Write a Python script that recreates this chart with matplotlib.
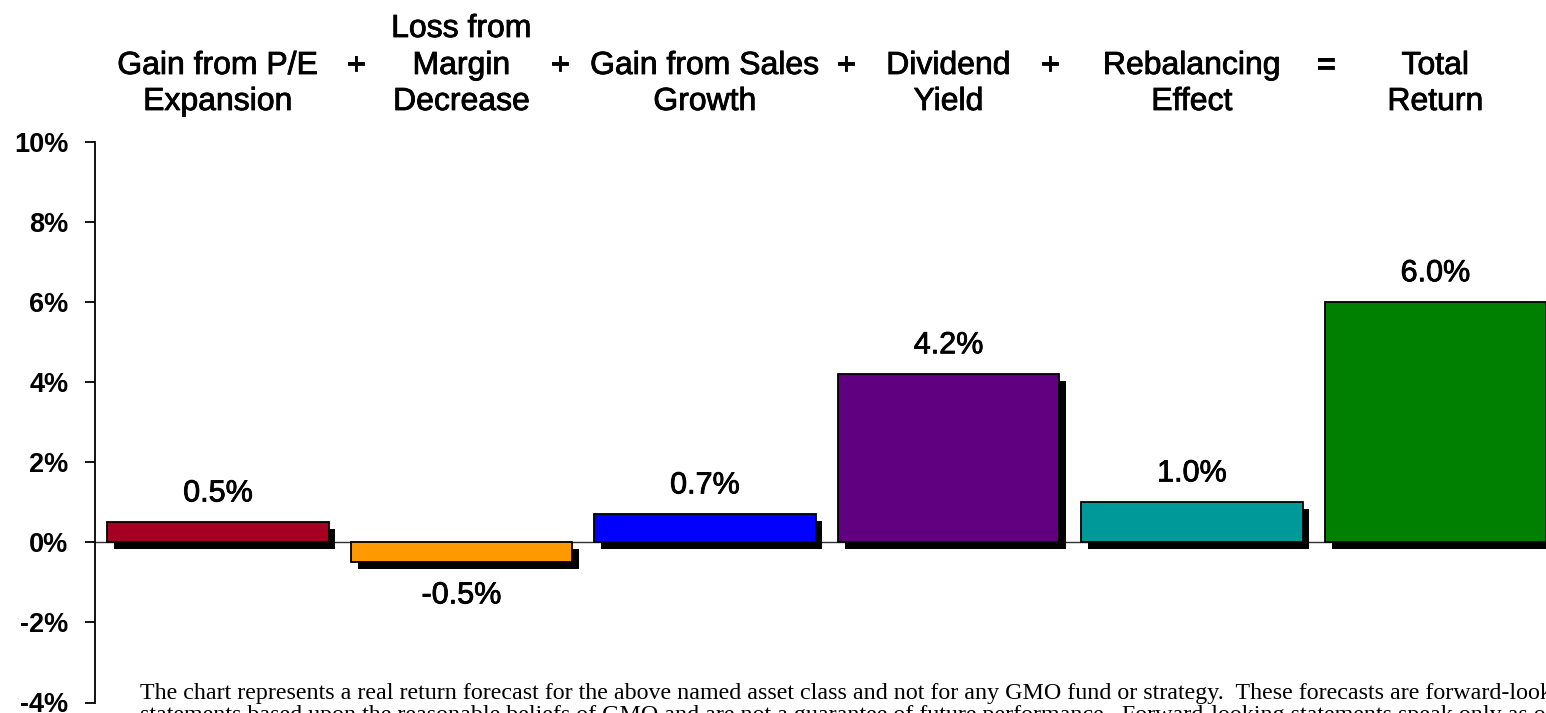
import matplotlib
matplotlib.use("Agg")
import matplotlib.pyplot as plt
import matplotlib.patheffects as pe
from matplotlib.transforms import blended_transform_factory

# Return decomposition components (percent)
categories = [
    ["Gain from P/E", "Expansion"],
    ["Loss from", "Margin", "Decrease"],
    ["Gain from Sales", "Growth"],
    ["Dividend", "Yield"],
    ["Rebalancing", "Effect"],
    ["Total", "Return"],
]
values = [0.5, -0.5, 0.7, 4.2, 1.0, 6.0]
value_labels = ["0.5%", "-0.5%", "0.7%", "4.2%", "1.0%", "6.0%"]
operators = ["+", "+", "+", "+", "="]
colors = ["#A50021", "#FF9900", "#0000FF", "#600080", "#009999", "#008000"]
yticks = [-4, -2, 0, 2, 4, 6, 8, 10]
ytick_labels = ["-4%", "-2%", "0%", "2%", "4%", "6%", "8%", "10%"]

footnote_lines = [
    "The chart represents a real return forecast for the above named asset class and not for any GMO fund or strategy.  "
    "These forecasts are forward-looking",
    "statements based upon the reasonable beliefs of GMO and are not a guarantee of future performance.  "
    "Forward-looking statements speak only as of the date they are made",
]

SANS = ["Liberation Sans", "Arial", "DejaVu Sans"]
SERIF = ["Liberation Serif", "Times New Roman", "DejaVu Serif"]
heavy = [pe.withStroke(linewidth=0.6, foreground="black")]

W, H, DPI = 1546, 713, 100
fig = plt.figure(figsize=(W / DPI, H / DPI), dpi=DPI)
ax = fig.add_axes([95 / W, (H - 702.5) / H, 1 - 95 / W, (702.5 - 142) / H])

x = list(range(len(values)))
ax.axhline(0, color="#303030", lw=1.0, zorder=1)
bars = ax.bar(x, values, width=0.908, color=colors, edgecolor="black",
              linewidth=1.3, zorder=3)
for b in bars:
    b.set_path_effects([
        pe.SimplePatchShadow(offset=(5, -5), shadow_rgbFace="black", alpha=1.0),
        pe.Normal(),
    ])

# Value labels
for xi, v, lab in zip(x, values, value_labels):
    if v >= 0:
        t = ax.annotate(lab, (xi, v), xytext=(0, 10), textcoords="offset points",
                        ha="center", va="bottom", fontsize=22, family=SANS)
    else:
        t = ax.annotate(lab, (xi, v), xytext=(0, -13), textcoords="offset points",
                        ha="center", va="top", fontsize=22, family=SANS)
    t.set_path_effects(heavy)

ax.set_xlim(-0.505, 5.454)
ax.set_ylim(-4, 10)
ax.set_yticks(yticks)
ax.set_yticklabels(ytick_labels, fontsize=19.5, fontweight="bold", family=SANS)
ax.tick_params(axis="y", direction="out", length=7, width=1.3, pad=12, color="black")
ax.set_xticks([])
for s in ["top", "right", "bottom"]:
    ax.spines[s].set_visible(False)
ax.spines["left"].set_linewidth(1.3)

# Header: category names stacked above each bar, operators between them
tr = blended_transform_factory(ax.transData, fig.transFigure)
row_baselines = {3: [37, 74, 110], 2: [74, 110]}
for xi, lines in zip(x, categories):
    for line, yb in zip(lines, row_baselines[len(lines)]):
        fig.text(xi, 1 - yb / H, line, transform=tr, ha="center", va="baseline",
                 fontsize=23, family=SANS, path_effects=heavy)
op_x = [0.567, 1.405, 2.579, 3.417, 4.55]
for ox, op in zip(op_x, operators):
    fig.text(ox, 1 - 74 / H, op, transform=tr, ha="center", va="baseline",
             fontsize=23, family=SANS, path_effects=heavy)

# Disclaimer, running off the bottom edge
for line, yb in zip(footnote_lines, [699, 721]):
    fig.text(140 / W, 1 - yb / H, line, ha="left", va="baseline",
             fontsize=17.3, family=SERIF)

fig.savefig("out.png", dpi=DPI)
